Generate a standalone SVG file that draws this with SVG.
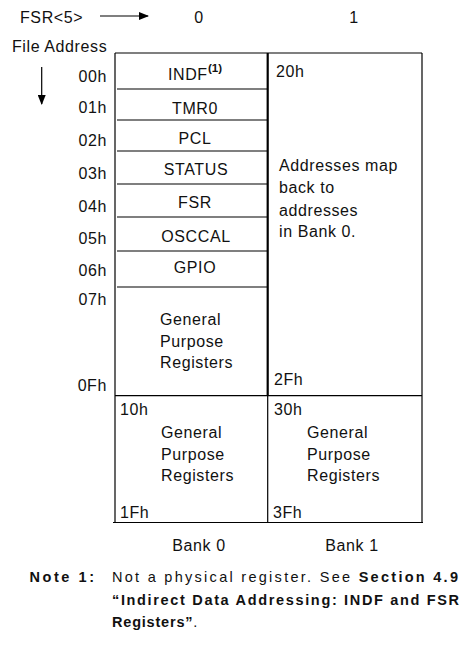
<svg xmlns="http://www.w3.org/2000/svg" width="467" height="658" viewBox="0 0 467 658">
<defs>
<marker id="ah" markerWidth="10" markerHeight="8" refX="9" refY="4" orient="auto" markerUnits="userSpaceOnUse"><path d="M0,0 L10,4 L0,8 Z" fill="#000"/></marker>
<style>
text{font-family:"Liberation Sans",Arial,sans-serif;font-size:16px;letter-spacing:0.6px;fill:#111}
.c{text-anchor:middle}
.r{text-anchor:end}
.ln{stroke:#000;stroke-width:1.2;fill:none}
.thick{stroke:#000;stroke-width:2.2;fill:none}
.n{font-size:14.5px;letter-spacing:0}
.b{font-weight:bold}
</style>
</defs>
<rect width="467" height="658" fill="#fff"/>
<g id="header">
<text x="20" y="23">FSR&lt;5&gt;</text>
<text x="199" y="23" class="c">0</text>
<text x="354" y="23" class="c">1</text>
<text x="12" y="52">File Address</text>
</g>
<g id="connectors">
<line x1="100" y1="16" x2="148" y2="16" class="ln" marker-end="url(#ah)"/>
<line x1="41.7" y1="67" x2="41.7" y2="104" class="ln" marker-end="url(#ah)"/>
</g>
<g id="addresses">
<text x="107" y="82" class="r">00h</text>
<text x="107" y="113" class="r">01h</text>
<text x="107" y="146" class="r">02h</text>
<text x="107" y="179" class="r">03h</text>
<text x="107" y="212" class="r">04h</text>
<text x="107" y="244" class="r">05h</text>
<text x="107" y="276" class="r">06h</text>
<text x="107" y="305" class="r">07h</text>
<text x="107" y="391" class="r">0Fh</text>
</g>
<g id="grid">
<line x1="115" y1="53" x2="422" y2="53" class="ln"/>
<line x1="115" y1="53" x2="115" y2="522.5" class="ln"/>
<line x1="422" y1="53" x2="422" y2="522.5" class="ln"/>
<line x1="267.7" y1="53" x2="267.7" y2="395.7" class="thick"/>
<line x1="267.7" y1="395.7" x2="267.7" y2="522.5" class="ln"/>
<line x1="115" y1="395.7" x2="422" y2="395.7" class="ln"/>
<line x1="113" y1="522.5" x2="423" y2="522.5" class="ln"/>
<line x1="117" y1="89" x2="267" y2="89" class="ln"/>
<line x1="117" y1="120" x2="267" y2="120" class="ln"/>
<line x1="117" y1="151" x2="267" y2="151" class="ln"/>
<line x1="117" y1="184" x2="267" y2="184" class="ln"/>
<line x1="117" y1="217" x2="267" y2="217" class="ln"/>
<line x1="117" y1="251" x2="267" y2="251" class="ln"/>
<line x1="117" y1="287" x2="267" y2="287" class="ln"/>
</g>
<g id="indf"><text x="168" y="80">INDF</text><text x="208" y="72" style="font-size:11.5px;font-weight:bold;letter-spacing:0">(1)</text></g>
<g id="tmr0"><text x="195" y="114" class="c">TMR0</text></g>
<g id="pcl"><text x="195" y="144" class="c">PCL</text></g>
<g id="status"><text x="196" y="175" class="c">STATUS</text></g>
<g id="fsr"><text x="195" y="208" class="c">FSR</text></g>
<g id="osccal"><text x="196" y="242" class="c">OSCCAL</text></g>
<g id="gpio"><text x="195" y="273" class="c">GPIO</text></g>
<g id="gpr0">
<text x="160" y="325">General</text>
<text x="160" y="347">Purpose</text>
<text x="160" y="368">Registers</text>
</g>
<g id="bank1map">
<text x="276" y="77">20h</text>
<text x="279" y="171">Addresses map</text>
<text x="279" y="193">back to</text>
<text x="279" y="215.5">addresses</text>
<text x="279" y="237">in Bank 0.</text>
<text x="274" y="385">2Fh</text>
</g>
<g id="gpr1">
<text x="120" y="415">10h</text>
<text x="161" y="438">General</text>
<text x="161" y="459.5">Purpose</text>
<text x="161" y="481">Registers</text>
<text x="120" y="518">1Fh</text>
</g>
<g id="gpr2">
<text x="274" y="415">30h</text>
<text x="307" y="438">General</text>
<text x="307" y="459.5">Purpose</text>
<text x="307" y="481">Registers</text>
<text x="273" y="518">3Fh</text>
</g>
<g id="banks">
<text x="199" y="551" class="c">Bank 0</text>
<text x="352" y="551" class="c">Bank 1</text>
</g>
<g id="note">
<text x="29.5" y="582" class="n b" textLength="64.5" lengthAdjust="spacing">Note 1:</text>
<text x="112" y="582" class="n" textLength="346" lengthAdjust="spacing">Not a physical register. See <tspan class="b">Section 4.9</tspan></text>
<text x="112" y="605" class="n b" textLength="347" lengthAdjust="spacing">“Indirect Data Addressing: INDF and FSR</text>
<text x="112" y="627" class="n b" style="letter-spacing:0.8px">Registers”<tspan style="font-weight:normal">.</tspan></text>
</g>
</svg>
